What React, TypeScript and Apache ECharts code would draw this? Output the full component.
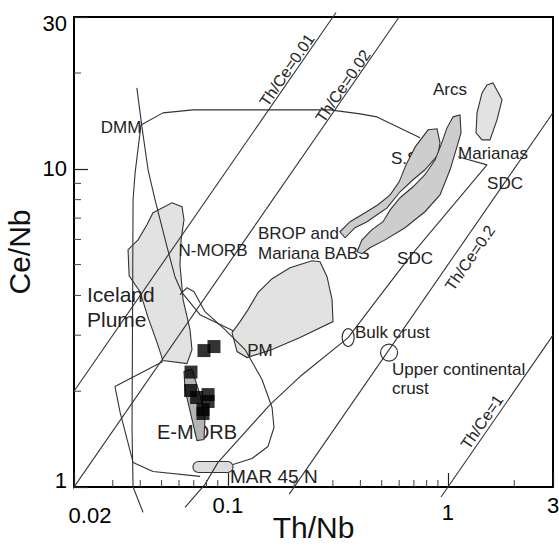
import React, { useEffect, useRef } from "react";
import * as echarts from "echarts";

// ---- axis ticks ----
const xMinorTicks = [0.03, 0.04, 0.05, 0.06, 0.07, 0.08, 0.09, 0.2, 0.3, 0.4, 0.5, 0.6, 0.7, 0.8, 0.9, 2];
const yMinorTicks = [2, 3, 4, 5, 6, 7, 8, 9, 20];

// ---- Th/Ce reference lines ----
const thCe001: number[][] = [[0.02, 2], [0.31, 31]];
const thCe002: number[][] = [[0.019, 0.95], [0.6, 30]];
const thCe02: number[][] = [[0.19, 0.95], [3, 15]];
const thCe1: number[][] = [[0.93, 0.93], [3, 3]];

// ---- outline lines ----
const dmmSteepLine: number[][] = [[0.0386, 17.96], [0.0407, 13.54], [0.0434, 9.93], [0.0467, 7.99], [0.0529, 5.69], [0.0575, 4.58], [0.0619, 4.08], [0.0747, 3.48], [0.1056, 3.1]];
const dmmVerticalLine: number[][] = [[0.0403, 13.74], [0.0379, 9.71], [0.0371, 7.99], [0.0367, 1.516], [0.0371, 1.0], [0.0412, 0.832]];
const envelopeTop: number[][] = [[0.0403, 13.74], [0.0507, 14.99], [0.0694, 15.32], [0.291, 15.32], [0.399, 14.88], [0.476, 14.56], [0.747, 12.51]];
const sdcLine: number[][] = [[1.111, 10.91], [1.504, 10.29], [0.672, 5.295], [0.476, 3.88], [0.352, 2.949], [0.2128, 2.224], [0.1555, 1.816], [0.0902, 1.195], [0.0787, 1.019], [0.0639, 0.863]];
const emorbLoop: number[][] = [[0.0606, 4.02], [0.0652, 4.23], [0.0702, 4.11], [0.0787, 3.556], [0.0971, 3.124], [0.1197, 2.703], [0.1429, 2.177], [0.1588, 1.778], [0.162, 1.538], [0.1522, 1.341], [0.1287, 1.229], [0.1056, 1.177]];
const lowerEnvelope: number[][] = [[0.0507, 2.479], [0.0307, 2.069], [0.0324, 1.715], [0.0371, 1.195], [0.0457, 1.119], [0.0747, 1.08]];

// ---- fields ----
const icelandPlume: number[][] = [[0.0457, 7.28], [0.0557, 7.82], [0.0619, 7.6], [0.0632, 6.92], [0.0613, 5.98], [0.0606, 4.996], [0.0626, 3.88], [0.0673, 3.124], [0.0687, 2.703], [0.0652, 2.443], [0.0507, 2.497], [0.0477, 2.843], [0.0434, 3.407], [0.0399, 4.11], [0.0356, 4.61], [0.0352, 5.57], [0.0391, 5.98], [0.0429, 6.67]];
const pmField: number[][] = [[0.1045, 3.056], [0.1136, 3.31], [0.1235, 3.61], [0.1371, 4.08], [0.1588, 4.516], [0.1916, 4.89], [0.2412, 5.14], [0.2622, 5.107], [0.2822, 4.58], [0.2974, 3.88], [0.3004, 3.31], [0.2128, 2.949], [0.1588, 2.703], [0.1222, 2.552], [0.1101, 2.665]];
const arcsField: number[][] = [[1.504, 18.35], [1.602, 18.62], [1.76, 16.47], [1.67, 14.25], [1.552, 12.33], [1.428, 12.33], [1.341, 12.97], [1.355, 14.99], [1.428, 17.32]];
const marianasField: number[][] = [[1.054, 14.56], [1.134, 14.77], [1.146, 12.97], [1.088, 11.47], [1.022, 9.93], [0.92, 8.28], [0.786, 7.33], [0.638, 6.53], [0.518, 5.98], [0.442, 5.65], [0.407, 5.41], [0.386, 5.49], [0.407, 5.98], [0.452, 6.44], [0.507, 6.82], [0.546, 7.43], [0.606, 8.11], [0.694, 8.78], [0.786, 9.58], [0.874, 10.67], [0.93, 11.89], [0.99, 13.45]];
const bropField: number[][] = [[0.812, 13.26], [0.892, 13.36], [0.92, 12.07], [0.901, 11.07], [0.786, 9.93], [0.694, 9.24], [0.606, 8.47], [0.529, 7.54], [0.491, 7.28], [0.429, 6.82], [0.378, 6.53], [0.341, 6.07], [0.323, 6.34], [0.359, 6.82], [0.42, 7.28], [0.481, 7.71], [0.546, 8.28], [0.6, 9.1], [0.645, 10.29], [0.71, 11.72]];
const emorbField: number[][] = [[0.0632, 2.306], [0.0687, 2.34], [0.0747, 1.952], [0.0787, 1.63], [0.0779, 1.411], [0.0724, 1.4], [0.0687, 1.63], [0.0639, 2.025]];
const mar45nBox: number[][] = [[0.0694, 1.203], [0.1056, 1.111]];

// ---- reservoirs and samples ----
const bulkCrust = [0.352, 2.949];
const upperContinentalCrust = [0.54, 2.645];
const samples: number[][] = [[0.0779, 2.684], [0.0865, 2.763], [0.068, 2.297], [0.0677, 2.01], [0.0721, 1.911], [0.0813, 1.952], [0.0813, 1.857], [0.0771, 1.752], [0.0771, 1.702]];

const FONT = "'Liberation Sans', Arial, Helvetica, sans-serif";
const LINE = "#333";
const ROT = (55.4 * Math.PI) / 180;

const near = (a: number, b: number) => Math.abs(a - b) < 1e-6 * Math.max(1, b);

export default function App() {
  const ref = useRef<HTMLDivElement>(null);
  useEffect(() => {
    document.body.style.margin = "0";
    const chart = echarts.init(ref.current!, undefined, { renderer: "svg" });

    const fields = [
      { pts: emorbField, fill: "#b4b4b4" },
      { pts: icelandPlume, fill: "#e2e2e2" },
      { pts: pmField, fill: "#e2e2e2" },
      { pts: arcsField, fill: "#e2e2e2" },
      { pts: bropField, fill: "#cdcdcd" },
      { pts: marianasField, fill: "#cdcdcd" },
    ];

    const lineSeries = (data: number[][], w = 1.1) => ({
      type: "line",
      data,
      symbol: "none",
      clip: false,
      silent: true,
      z: 4,
      lineStyle: { color: LINE, width: w },
      emphasis: { disabled: true },
    });

    const txt = (t: string, x: number, y: number, fs: number, align = "center", z = 10, rotation = 0) => ({
      type: "text",
      x,
      y,
      z,
      rotation,
      silent: true,
      style: { text: t, font: `${fs}px ${FONT}`, fill: "#222", align, verticalAlign: "middle" },
    });

    const lab = { fontSize: 22, fontFamily: FONT, color: "#000" };

    chart.setOption({
      animation: false,
      grid: {
        left: 74, top: 17, width: 479, height: 470,
        containLabel: false, outerBoundsMode: "none",
        show: true, borderColor: "#000", borderWidth: 2, backgroundColor: "transparent",
      },
      xAxis: {
        type: "log",
        min: 0.02,
        max: 3,
        name: "Th/Nb",
        nameLocation: "middle",
        nameGap: 25,
        nameMoveOverlap: false,
        nameTextStyle: { fontSize: 30, fontFamily: FONT, color: "#111" },
        axisLine: { lineStyle: { color: "#000", width: 2 } },
        axisTick: { inside: true, length: 14, lineStyle: { color: "#222", width: 1.2 } },
        axisLabel: {
          ...lab,
          margin: 7,
          hideOverlap: false,
          formatter: (v: number) => {
            if (near(v, 0.02)) return "{m|0.02}";
            if (near(v, 1)) return "{o|1}";
            return "{n|" + String(+Number(v).toPrecision(6)) + "}";
          },
          rich: {
            m: { ...lab, padding: [10, 0, 0, 32] },
            o: { ...lab, padding: [7, 0, 0, 0] },
            n: { ...lab },
          },
        },
        splitLine: { show: false },
        minorTick: { show: false },
      },
      yAxis: {
        type: "log",
        min: 1,
        max: 30,
        name: "Ce/Nb",
        nameLocation: "middle",
        nameGap: 40,
        nameMoveOverlap: false,
        nameTextStyle: { fontSize: 30, fontFamily: FONT, color: "#111" },
        axisLine: { lineStyle: { color: "#000", width: 2 } },
        axisTick: { inside: true, length: 14, lineStyle: { color: "#222", width: 1.2 } },
        axisLabel: {
          ...lab,
          margin: 7,
          hideOverlap: false,
          formatter: (v: number) => {
            if (near(v, 1)) return "{b|1}";
            if (near(v, 30)) return "{t|30}";
            return "{n|" + String(+Number(v).toPrecision(6)) + "}";
          },
          rich: {
            b: { ...lab, padding: [0, 0, 14, 0] },
            t: { ...lab, padding: [12, 0, 0, 0] },
            n: { ...lab },
          },
        },
        splitLine: { show: false },
      },
      graphic: [
        txt("DMM", 121, 127, 17),
        txt("Th/Ce=0.01", 287, 70, 16, "center", 10, ROT),
        txt("Th/Ce=0.02", 343, 86, 16, "center", 10, ROT),
        txt("Arcs", 450, 89, 17),
        txt("S.S", 391, 158, 17, "left", 1),
        txt("Marianas", 493, 153, 17),
        txt("SDC", 505, 183, 17),
        txt("BROP and", 258, 233, 17, "left"),
        txt("Mariana BABS", 258, 253, 17, "left", 1),
        txt("SDC", 415, 258, 17),
        txt("N-MORB", 213, 250, 17),
        txt("Th/Ce=0.2", 470, 258, 16, "center", 10, ROT),
        txt("Iceland", 87, 294, 21, "left"),
        txt("Plume", 87, 319, 21, "left"),
        txt("PM", 260, 350, 17),
        txt("Bulk crust", 355, 332, 17, "left"),
        txt("Upper continental", 392, 369, 17, "left"),
        txt("crust", 392, 388, 17, "left"),
        txt("E-MORB", 197, 432, 20, "center", 1),
        txt("MAR 45 N", 230, 476, 19, "left", 1),
        txt("Th/Ce=1", 482, 422, 16, "center", 10, ROT),
      ],
      series: [
        {
          type: "custom",
          silent: true,
          z: 2,
          data: fields.map((f, i) => [f.pts[0][0], f.pts[0][1], i]),
          encode: { x: 0, y: 1 },
          renderItem: (params: any, api: any) => {
            const f = fields[api.value(2)];
            return {
              type: "polygon",
              shape: { points: f.pts.map((p) => api.coord(p)) },
              style: { fill: f.fill, stroke: LINE, lineWidth: 1.1 },
            };
          },
        },
        {
          type: "custom",
          silent: true,
          z: 2,
          data: [[mar45nBox[0][0], mar45nBox[0][1]]],
          renderItem: (params: any, api: any) => {
            const a = api.coord(mar45nBox[0]);
            const b = api.coord(mar45nBox[1]);
            const h = b[1] - a[1];
            return {
              type: "rect",
              shape: { x: a[0], y: a[1], width: b[0] - a[0], height: h, r: h / 2 },
              style: { fill: "#dcdcdc", stroke: LINE, lineWidth: 1.1 },
            };
          },
        },
        {
          type: "custom",
          silent: true,
          z: 5,
          data: [bulkCrust, upperContinentalCrust],
          renderItem: (params: any, api: any) => {
            const p = api.coord([api.value(0), api.value(1)]);
            const i = params.dataIndex;
            return {
              type: "ellipse",
              shape: { cx: p[0], cy: p[1], rx: i === 0 ? 6 : 8.5, ry: i === 0 ? 9 : 8.5 },
              style: { fill: "none", stroke: LINE, lineWidth: 1.2 },
            };
          },
        },
        lineSeries(thCe001),
        lineSeries(thCe002),
        lineSeries(thCe02),
        lineSeries(thCe1),
        lineSeries(dmmSteepLine),
        lineSeries(dmmVerticalLine),
        lineSeries(envelopeTop),
        lineSeries(sdcLine),
        lineSeries(emorbLoop),
        lineSeries(lowerEnvelope),
        {
          type: "scatter",
          data: samples,
          symbol: "rect",
          symbolSize: 13,
          z: 6,
          silent: true,
          itemStyle: { color: "#000" },
        },
        {
          type: "custom",
          silent: true,
          z: 7,
          data: xMinorTicks.map((v) => [v, 1]),
          renderItem: (params: any, api: any) => {
            const p = api.coord([api.value(0), api.value(1)]);
            return { type: "line", shape: { x1: p[0], y1: p[1], x2: p[0], y2: p[1] - 7 }, style: { stroke: "#444", lineWidth: 1 } };
          },
        },
        {
          type: "custom",
          silent: true,
          z: 7,
          data: yMinorTicks.map((v) => [0.02, v]),
          renderItem: (params: any, api: any) => {
            const p = api.coord([api.value(0), api.value(1)]);
            return { type: "line", shape: { x1: p[0], y1: p[1], x2: p[0] + 7, y2: p[1] }, style: { stroke: "#444", lineWidth: 1 } };
          },
        },
      ],
    });
    return () => chart.dispose();
  }, []);
  return <div ref={ref} style={{ width: 559, height: 547 }} />;
}
